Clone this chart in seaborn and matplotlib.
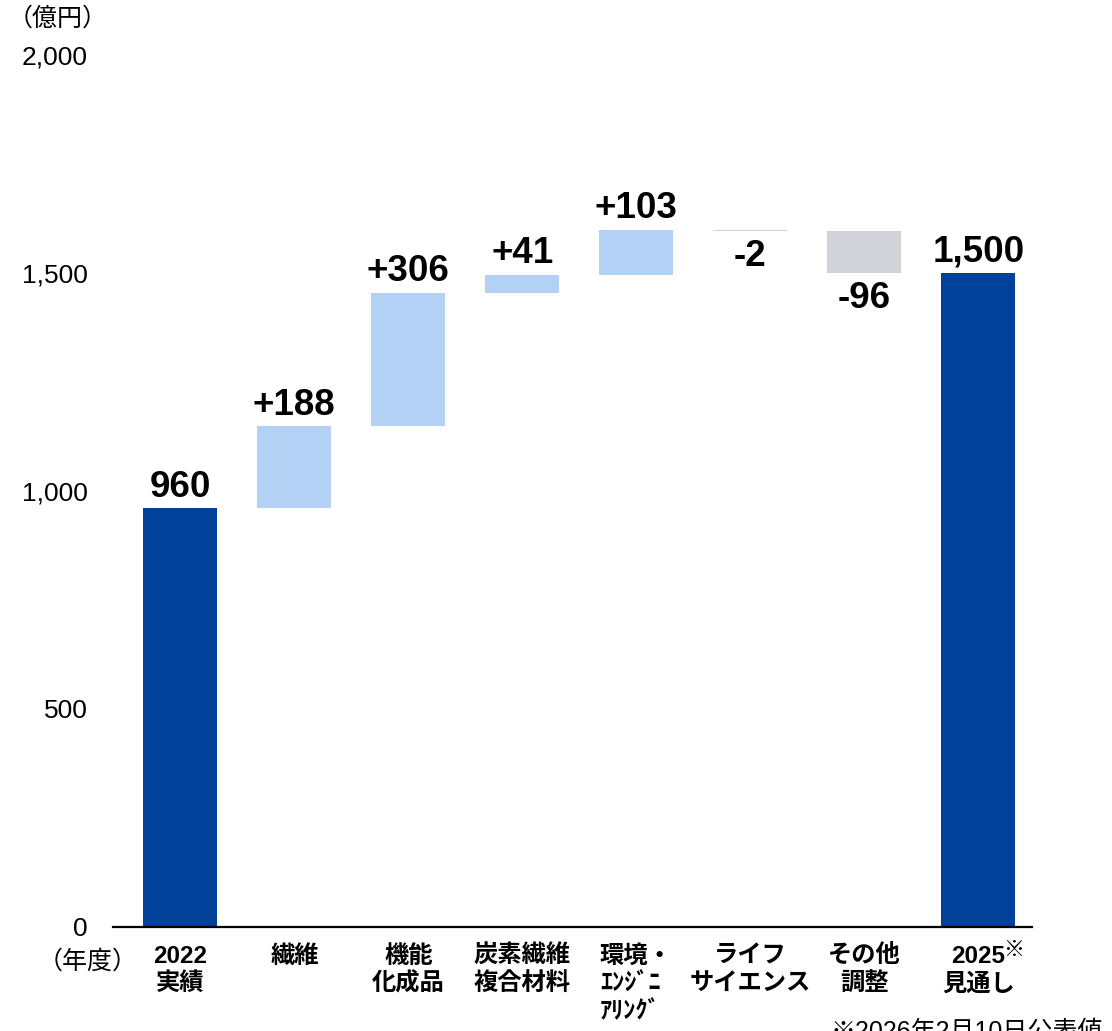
import matplotlib
matplotlib.use("Agg")
import matplotlib.pyplot as plt
import seaborn as sns
import pandas as pd

# ---- data -------------------------------------------------------------
categories = ["2022\n実績", "繊維", "機能\n化成品", "炭素繊維\n複合材料",
              "環境・\nｴﾝｼﾞﾆ\nｱﾘﾝｸﾞ", "ライフ\nサイエンス", "その他\n調整", "2025\n見通し"]
start_total = 960
deltas = [188, 306, 41, 103, -2, -96]
end_total = 1500
y_ticks = [0, 500, 1000, 1500, 2000]

# ---- colours ----------------------------------------------------------
TOTAL_COLOR = "#00419A"
UP_COLOR = "#B3D1F5"
DOWN_COLOR = "#D1D2D7"

# ---- build the waterfall table ---------------------------------------
bottoms, heights, colors, labels, kinds = [0], [start_total], [TOTAL_COLOR], [f"{start_total:,}"], ["total"]
running = start_total
for d in deltas:
    if d >= 0:
        bottoms.append(running)
        heights.append(d)
        colors.append(UP_COLOR)
        kinds.append("up")
    else:
        bottoms.append(running + d)
        heights.append(-d)
        colors.append(DOWN_COLOR)
        kinds.append("down")
    labels.append(f"{d:+d}")
    running += d
bottoms.append(0)
heights.append(end_total)
colors.append(TOTAL_COLOR)
labels.append(f"{end_total:,}")
kinds.append("total")

df = pd.DataFrame({"category": categories, "bottom": bottoms, "height": heights})

# ---- style ------------------------------------------------------------
sns.set_theme(style="white")
plt.rcParams["font.family"] = ["Liberation Sans", "Noto Sans CJK JP"]

W, H = 1112, 1031
fig = plt.figure(figsize=(W / 100, H / 100), dpi=100)
ax = fig.add_axes([113 / W, 104 / H, 919 / W, 872 / H])

sns.barplot(data=df, x="category", y="height", bottom=df["bottom"].to_numpy(),
            order=categories, width=0.65, color=TOTAL_COLOR, saturation=1,
            linewidth=0, ax=ax)
for patch, c in zip(ax.patches, colors):
    patch.set_facecolor(c)
    patch.set_edgecolor("none")

ax.set_xlim(-0.59, 7.47)
ax.set_ylim(0, 2000)
ax.set_xlabel("")
ax.set_ylabel("")

for side in ("top", "right", "left"):
    ax.spines[side].set_visible(False)
ax.spines["bottom"].set_color("black")
ax.spines["bottom"].set_linewidth(1.6)

ax.set_yticks(y_ticks)
ax.set_yticklabels([f"{v:,}" for v in y_ticks], fontsize=19)
ax.tick_params(axis="y", length=0, pad=18, colors="black")
ax.tick_params(axis="x", length=0, pad=13, colors="black")
ax.set_xticks(range(len(categories)))
xt = ax.set_xticklabels(categories, fontsize=17.5, fontweight="bold", linespacing=1.24)
xt[4].set_multialignment("left")

# value labels
for i, (b, h, lab, k) in enumerate(zip(bottoms, heights, labels, kinds)):
    if k == "down":
        ax.annotate(lab, xy=(i, b), xytext=(0, -6), textcoords="offset points",
                    ha="center", va="top", fontsize=26.5, fontweight="bold", color="black")
    else:
        ax.annotate(lab, xy=(i, b + h), xytext=(0, 8.5), textcoords="offset points",
                    ha="center", va="baseline", fontsize=26.5, fontweight="bold", color="black")

# mark on the forecast year
ax.annotate("※", xy=(7, 0), xycoords=("data", "axes fraction"), xytext=(17.5, -16.5),
            textcoords="offset points", ha="left", va="center", fontsize=15,
            fontweight="bold", color="black")

# unit / axis captions
fig.text(8 / W, 1 - 19 / H, "（億円）", fontsize=18, ha="left", va="center", color="black")
fig.text(88 / W, 1 - 962 / H, "（年度）", fontsize=18, ha="center", va="center", color="black")
fig.text(830 / W, 1 - 1020 / H, "※2026年2月10日公表値", fontsize=18, ha="left", va="top", color="black")

fig.savefig("out.png", dpi=100)
